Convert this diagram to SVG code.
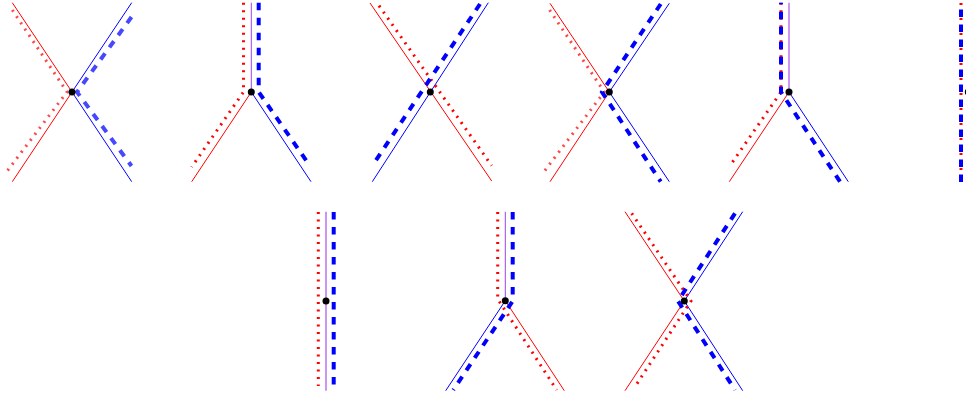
<svg xmlns="http://www.w3.org/2000/svg" width="966" height="399" viewBox="0 0 966 399">
<style>
  .bg{fill:#ffffff}
  path{fill:none}
  .rs{stroke:#ff0000;stroke-width:1}
  .bs{stroke:#0000ff;stroke-width:1}
  .ps{stroke:#9944ee;stroke-width:1}
  .pl{stroke:#c88cf0;stroke-width:1.8}
  .rd{stroke:#ff0000;stroke-width:3;stroke-dasharray:2 5.5}
  .bd{stroke:#0000ff;stroke-width:4;stroke-dasharray:7.5 7.5}
  .lt{stroke-opacity:0.72}
  .dot{fill:#000000}
</style>
<rect class="bg" x="0" y="0" width="966" height="399"/>
<g id="connectors">
  <g id="p1">
    <path class="rs" d="M12.3,2.7 L72,92 L12.3,181.7"/>
    <path class="bs" d="M131.7,2.7 L72,92 L131.7,181.7"/>
    <path class="rd lt" d="M12.3,10 L67,92 L6.7,171.7"/>
    <path class="bd lt" d="M131.5,17 L77,92 L131.5,166"/>
  </g>
  <g id="p2">
    <path class="ps" d="M251.3,2.7 L251.3,92"/>
    <path class="rs" d="M251.3,92 L191.7,181.7"/>
    <path class="bs" d="M251.3,92 L311,181.7"/>
    <path class="rd" d="M243.5,2.7 L243.5,92 L191.7,167"/>
    <path class="bd" d="M258.7,2.7 L258.7,92 L310,166"/>
  </g>
  <g id="p3">
    <path class="rs" d="M370,3 L491.7,181"/>
    <path class="bs" d="M488.3,2.7 L372.3,181.7"/>
    <path class="rd" d="M379,5.7 L491.7,165.7"/>
    <path class="bd" d="M480,4 L372.3,165.7"/>
  </g>
  <g id="p4">
    <path class="rs" d="M550,3.3 L609.3,92 L550,181.7"/>
    <path class="bs" d="M669.3,3.3 L609.3,92 L669.3,181.7"/>
    <path class="rd lt" d="M549.6,10 L604.3,92 L544,171.7"/>
    <path class="bd" d="M660.7,4 L602,92 L660.7,181.7"/>
  </g>
  <g id="p5">
    <path class="pl" d="M789,2.7 L789,92"/>
    <path class="rs" d="M789,92 L729.3,181.7"/>
    <path class="bs" d="M789,92 L848.3,181.7"/>
    <path class="rd" d="M781,2.7 L781,92 L729.3,166.7"/>
    <path class="bd" d="M840,181.7 L781,92 L781,2.7"/>
  </g>
  <g id="p6">
    <path class="rd" d="M961,3 L961,182"/>
    <path class="bd" d="M961,182 L961,3"/>
  </g>
  <g id="p7">
    <path class="pl" d="M326,211.7 L326,390.7"/>
    <path class="rd" d="M318.3,212 L318.3,386"/>
    <path class="bd" d="M333.7,212 L333.7,386"/>
  </g>
  <g id="p8">
    <path class="ps" d="M505.3,211.7 L505.3,300.7"/>
    <path class="rs" d="M505.3,300.7 L564.3,390.7"/>
    <path class="bs" d="M505.3,300.7 L445.7,390.7"/>
    <path class="rd" d="M497.7,212 L497.7,299 L556.7,390"/>
    <path class="bd" d="M512.7,212 L512.7,301 L453.3,390"/>
  </g>
  <g id="p9">
    <path class="rs" d="M625,211.7 L684.3,301 L625,390.7"/>
    <path class="bs" d="M742.7,211.7 L684.3,301 L742.7,390.7"/>
    <path class="rd" d="M631.7,213.3 L691,301 L635,386.7"/>
    <path class="bd" d="M735,213.3 L678,301 L735,390"/>
  </g>
</g>
<g id="n1"><circle class="dot" cx="72" cy="92" r="3.5"/></g>
<g id="n2"><circle class="dot" cx="251.3" cy="92" r="3.5"/></g>
<g id="n3"><circle class="dot" cx="430.3" cy="92" r="3.5"/></g>
<g id="n4"><circle class="dot" cx="609.3" cy="92" r="3.5"/></g>
<g id="n5"><circle class="dot" cx="789" cy="92" r="3.5"/></g>
<g id="n6"><circle class="dot" cx="968.3" cy="92" r="3.5"/></g>
<g id="n7"><circle class="dot" cx="326" cy="301" r="3.5"/></g>
<g id="n8"><circle class="dot" cx="505.3" cy="300.7" r="3.5"/></g>
<g id="n9"><circle class="dot" cx="684.3" cy="301" r="3.5"/></g>
</svg>
